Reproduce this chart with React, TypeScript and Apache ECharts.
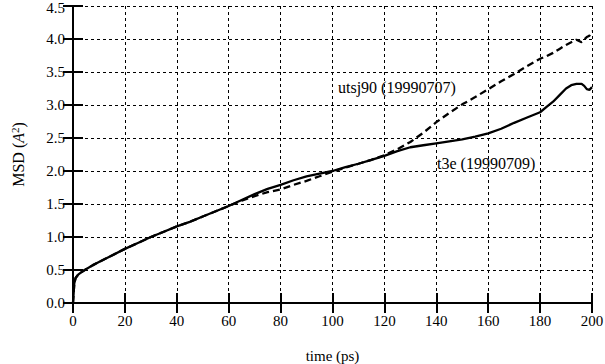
import React, { useEffect, useRef } from "react";
import * as echarts from "echarts";

const times = [0, 0.5, 1, 2, 3, 5, 7.5, 10, 15, 20, 25, 30, 35, 40, 45, 50, 55, 60, 65, 70, 75, 80, 85, 90, 95, 100, 105, 110, 115, 120, 125, 130, 135, 140, 145, 150, 155, 160, 165, 170, 175, 180, 182.5, 185, 187.5, 190, 192, 194, 196, 197, 198, 199, 200];

const t3e = [0, 0.3, 0.38, 0.43, 0.46, 0.51, 0.57, 0.62, 0.72, 0.82, 0.91, 1.0, 1.08, 1.16, 1.23, 1.31, 1.39, 1.47, 1.56, 1.65, 1.73, 1.79, 1.86, 1.92, 1.96, 2.0, 2.06, 2.11, 2.17, 2.23, 2.3, 2.36, 2.39, 2.42, 2.45, 2.48, 2.52, 2.57, 2.64, 2.73, 2.81, 2.89, 2.97, 3.05, 3.15, 3.25, 3.3, 3.32, 3.32, 3.29, 3.24, 3.23, 3.27];

const utsj90 = [0, 0.3, 0.38, 0.43, 0.46, 0.51, 0.57, 0.62, 0.72, 0.82, 0.91, 1.0, 1.08, 1.16, 1.23, 1.31, 1.39, 1.47, 1.55, 1.62, 1.68, 1.72, 1.79, 1.85, 1.92, 1.99, 2.05, 2.11, 2.17, 2.24, 2.33, 2.44, 2.58, 2.74, 2.88, 3.01, 3.12, 3.24, 3.36, 3.47, 3.59, 3.7, 3.74, 3.79, 3.85, 3.91, 3.95, 3.99, 3.95, 3.99, 4.03, 4.05, 4.12];

const xTicks = { min: 0, max: 200, interval: 20 };
const yTicks = { min: 0, max: 4.5, interval: 0.5 };

const labelT3e = "t3e (19990709)";
const labelUtsj = "utsj90 (19990707)";

const FONT = "Liberation Serif";

export default function App() {
  const ref = useRef<HTMLDivElement>(null);
  useEffect(() => {
    if (!ref.current) return;
    const chart = echarts.init(ref.current, null, { renderer: "svg" });
    const axisLine = { show: true, lineStyle: { color: "#000", width: 2 } };
    const axisTick = { show: true, inside: true, length: 10, lineStyle: { color: "#000", width: 2 } };
    const split = { show: true, lineStyle: { color: "#000", width: 1, type: [3, 3] } };
    const lbl = { color: "#000", fontFamily: FONT, fontSize: 15 };
    chart.setOption({
      animation: false,
      backgroundColor: "#fff",
      grid: { left: 73, right: 13, top: 6, bottom: 61, containLabel: false, outerBoundsMode: "none" },
      xAxis: [
        {
          type: "value", ...xTicks, position: "bottom",
          axisLine, axisTick, splitLine: split,
          axisLabel: { ...lbl, margin: 10, formatter: (v: number) => String(v) },
          name: "time (ps)", nameLocation: "middle", nameGap: 45,
          nameTextStyle: { ...lbl, fontSize: 15, lineHeight: 15 },
        },
        {
          type: "value", ...xTicks, position: "top",
          axisLine, axisTick, splitLine: { show: false }, axisLabel: { show: false },
        },
      ],
      yAxis: [
        {
          type: "value", ...yTicks, position: "left",
          axisLine, axisTick, splitLine: split,
          axisLabel: {
            ...lbl, margin: 8, lineHeight: 12,
            formatter: (v: number) => (v >= yTicks.max ? `{top|${v.toFixed(1)}}` : v.toFixed(1)),
            rich: { top: { fontFamily: FONT, fontSize: 15, color: "#000", lineHeight: 12, padding: [4, 0, 0, 0] } },
          },
          name: "MSD ({i|A}{s|2})", nameLocation: "middle", nameGap: 45, nameRotate: 90,
          nameTextStyle: {
            ...lbl,
            fontSize: 16,
            rich: {
              i: { fontFamily: FONT, fontSize: 16, fontStyle: "italic", color: "#000" },
              s: { fontFamily: FONT, fontSize: 11, color: "#000", padding: [0, 0, 8, 0] },
            },
          },
        },
        {
          type: "value", ...yTicks, position: "right",
          axisLine, axisTick, splitLine: { show: false }, axisLabel: { show: false },
        },
      ],
      series: [
        {
          type: "line", name: labelT3e, showSymbol: false, symbol: "none",
          data: times.map((t, i) => [t, t3e[i]]),
          lineStyle: { color: "#000", width: 2.3 },
          z: 3,
        },
        {
          type: "line", name: labelUtsj, showSymbol: false, symbol: "none",
          data: times.map((t, i) => [t, utsj90[i]]),
          lineStyle: { color: "#000", width: 2.3, type: [7, 4] },
          z: 3,
        },
      ],
      graphic: [
        { type: "text", left: 338, top: 79, style: { text: labelUtsj, fill: "#000", fontFamily: FONT, fontSize: 16 } },
        { type: "text", left: 437, top: 155, style: { text: labelT3e, fill: "#000", fontFamily: FONT, fontSize: 16 } },
      ],
    });
    return () => chart.dispose();
  }, []);
  return <div ref={ref} style={{ position: "absolute", left: 0, top: 0, width: 605, height: 364 }} />;
}
